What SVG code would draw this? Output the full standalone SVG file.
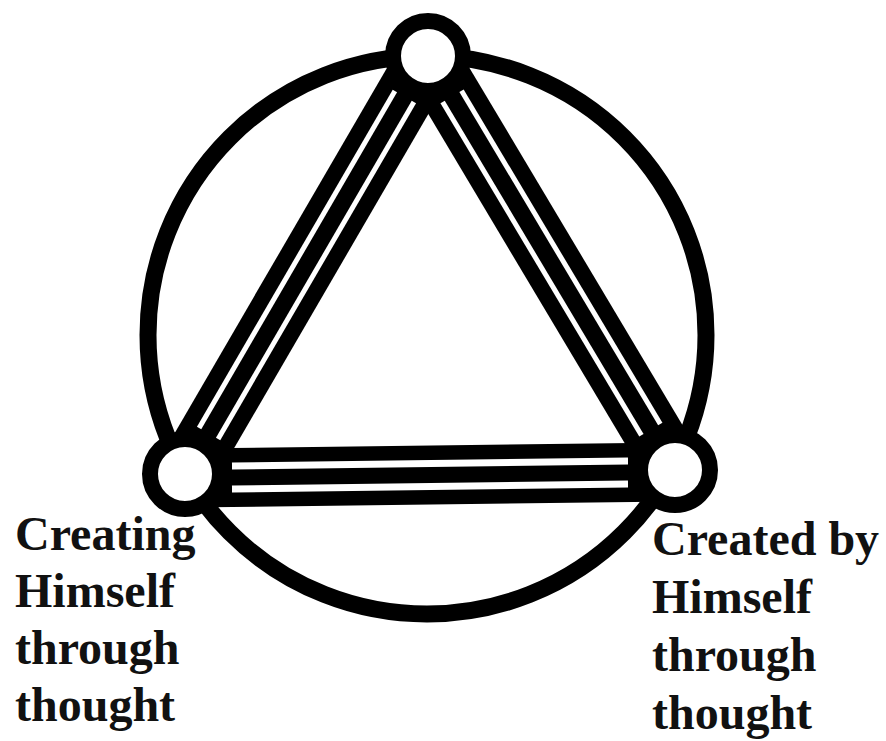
<svg xmlns="http://www.w3.org/2000/svg" width="886" height="741" viewBox="0 0 886 741">
<style>
.ring{fill:none;stroke:#000;stroke-width:17}
.band{stroke:#000;stroke-width:59;stroke-linecap:butt}
.gap{stroke:#fff;stroke-width:5;stroke-linecap:butt}
.gapb{stroke:#fff;stroke-width:7;stroke-linecap:butt}
.node{fill:#fff;stroke:#000;stroke-width:16}
.lbl{font-family:"Liberation Serif","Times New Roman",serif;font-weight:bold;font-size:48px;fill:#111}
</style>
<rect width="886" height="741" fill="#fff"/>
<circle class="ring" cx="427" cy="335" r="279"/>
<g id="connectors">
  <line class="band" x1="185" y1="474" x2="428" y2="56"/>
  <line class="band" x1="428" y1="56" x2="675" y2="470"/>
  <line class="band" x1="185" y1="478" x2="675" y2="472"/>
  <line class="gap" x1="218.1" y1="438.9" x2="413.9" y2="102.1"/>
  <line class="gap" x1="199.1" y1="427.9" x2="394.9" y2="91.1"/>
  <line class="gap" x1="461.5" y1="90.8" x2="660.3" y2="424.0"/>
  <line class="gap" x1="442.6" y1="102.0" x2="641.4" y2="435.2"/>
  <line class="gapb" x1="232" y1="466" x2="628" y2="461"/>
  <line class="gapb" x1="232" y1="489" x2="628" y2="484"/>
</g>
<g id="node-top"><circle class="node" cx="428" cy="56" r="35"/></g>
<g id="node-left"><circle class="node" cx="185" cy="474" r="35"/></g>
<g id="node-right"><circle class="node" cx="675" cy="470" r="35"/></g>
<g id="label-left">
  <text class="lbl" x="15" y="550">Creating</text>
  <text class="lbl" x="15" y="607">Himself</text>
  <text class="lbl" x="15" y="664">through</text>
  <text class="lbl" x="15" y="721">thought</text>
</g>
<g id="label-right">
  <text class="lbl" x="652" y="555">Created by</text>
  <text class="lbl" x="652" y="613">Himself</text>
  <text class="lbl" x="652" y="671">through</text>
  <text class="lbl" x="652" y="729">thought</text>
</g>
</svg>
